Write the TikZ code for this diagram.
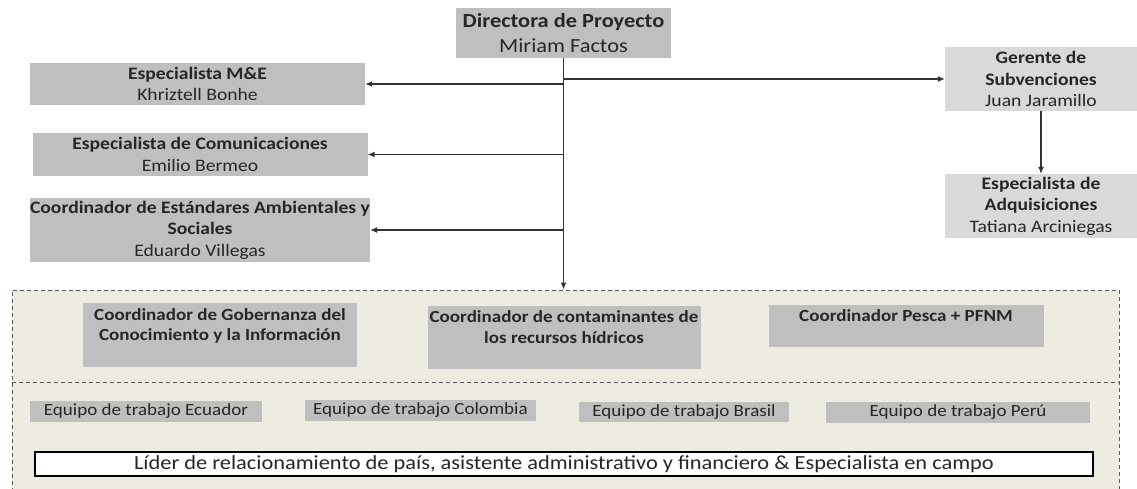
\documentclass[tikz,border=0pt]{standalone}
\usepackage{fontspec}
\setmainfont{Carlito}[FakeStretch=1.12]
\usetikzlibrary{arrows.meta}
\definecolor{boxgray}{HTML}{BFBFBF}
\definecolor{boxlight}{HTML}{D9D9D9}
\definecolor{panelbg}{HTML}{EEECE1}
\definecolor{ink}{HTML}{262626}
\tikzset{main/.style = {fill=boxgray, text=ink, inner sep=0pt, align=center, font=\fontsize{17.5}{21.5}\selectfont}}
\tikzset{light/.style = {main, fill=boxlight}}
\tikzset{coordbox/.style = {main, font=\fontsize{17}{20.5}\selectfont\bfseries}}
\tikzset{teambox/.style = {main, font=\fontsize{17}{20}\selectfont}}
\tikzset{panel/.style = {draw=black!65, fill=panelbg, line width=1pt, dash pattern=on 4pt off 3pt, inner sep=0pt}}
\tikzset{link/.style = {draw=black!80, line width=1.2pt, -{Latex[length=7pt,width=6pt]}}}

\begin{document}
\begin{tikzpicture}[x=1pt, y=-1pt]
\useasboundingbox (0,0) rectangle (1137,489);

\node[panel, minimum width=1107pt, minimum height=206pt] (field) at (565.5,393) {};
\draw[panel, fill=none] (field.west |- 0,382) -- (field.east |- 0,382);

\node[main, minimum width=215pt, minimum height=50pt, font=\fontsize{20}{25}\selectfont] (dir) at (563.5,33) {\textbf{Directora de Proyecto}\\Miriam Factos};

\node[main, minimum width=335pt, minimum height=42pt] (me) at (197.5,84) {\textbf{Especialista M\&E}\\Khriztell Bonhe};
\node[main, minimum width=335pt, minimum height=43pt] (com) at (200,154.5) {\textbf{Especialista de Comunicaciones}\\Emilio Bermeo};
\node[main, minimum width=335pt, minimum height=64pt] (amb) at (200,230) {\textbf{Coordinador de Estándares Ambientales y}\\\textbf{Sociales}\\Eduardo Villegas};

\node[light, minimum width=192pt, minimum height=64pt] (ger) at (1041,79) {\textbf{Gerente de}\\\textbf{Subvenciones}\\Juan Jaramillo};
\node[light, minimum width=192pt, minimum height=64pt] (adq) at (1041,206) {\textbf{Especialista de}\\\textbf{Adquisiciones}\\Tatiana Arciniegas};

\node[coordbox, minimum width=274pt, minimum height=64pt] (gob) at (220,335) {Coordinador de Gobernanza del\\Conocimiento y la Información\\~};
\node[coordbox, minimum width=273pt, minimum height=63pt] (cont) at (564,337.5) {Coordinador de contaminantes de\\los recursos hídricos\\~};
\node[coordbox, minimum width=275pt, minimum height=42pt] (pesca) at (906,326) {Coordinador Pesca + PFNM\\~};

\node[teambox, minimum width=232pt, minimum height=21pt] (ecu) at (146,411.5) {Equipo de trabajo Ecuador};
\node[teambox, minimum width=231pt, minimum height=21pt] (col) at (420.5,410.5) {Equipo de trabajo Colombia};
\node[teambox, minimum width=210pt, minimum height=20pt] (bra) at (684,412) {Equipo de trabajo Brasil};
\node[teambox, minimum width=264pt, minimum height=21pt] (per) at (958,412.5) {Equipo de trabajo Perú};

\node[main, fill=white, draw=black, line width=1.2pt, minimum width=1058pt, minimum height=24pt, font=\fontsize{20}{24}\selectfont] (lider) at (564,464) {Líder de relacionamiento de país, asistente administrativo y financiero \& Especialista en campo};

\coordinate (tger) at (dir.south |- ger);
\coordinate (tme) at (dir.south |- me);
\coordinate (tcom) at (dir.south |- com);
\coordinate (tamb) at (dir.south |- amb);
\coordinate (tend) at (dir.south |- field.north);

\draw[link] (dir.south) -- (tend);
\draw[link] (tme) -- (me.east);
\draw[link] (tcom) -- (com.east);
\draw[link] (tamb) -- (amb.east);
\draw[link] (tger) -- (ger.west);
\draw[link] (ger.south) -- (adq.north);
\end{tikzpicture}
\end{document}
